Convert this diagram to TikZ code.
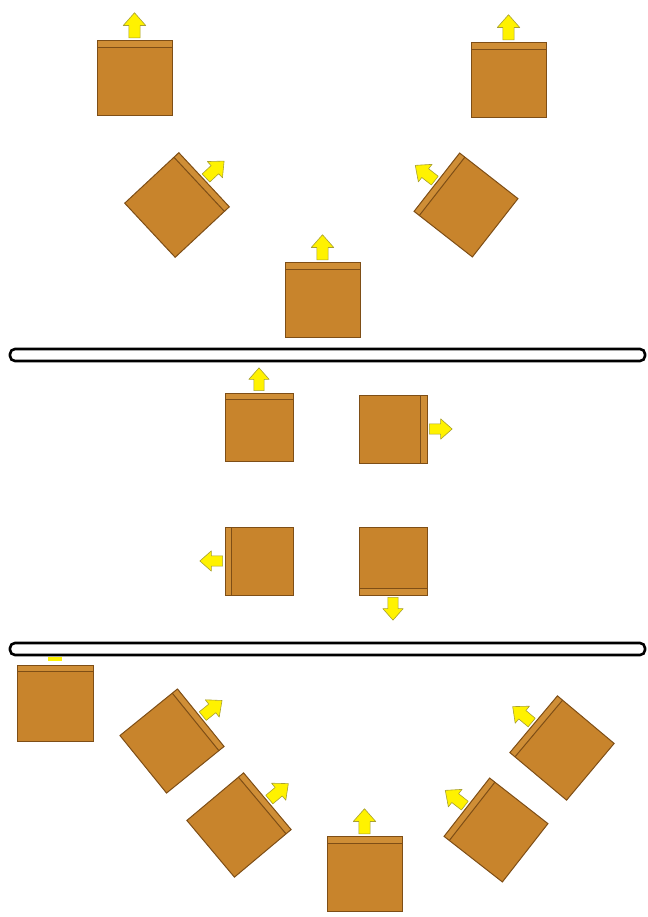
\documentclass[tikz,border=0pt]{standalone}
\definecolor{cratefill}{HTML}{C8842C}
\definecolor{crateedge}{HTML}{7E4E16}
\definecolor{crateband}{HTML}{CF8E36}
\definecolor{arrowfill}{HTML}{FFF200}
\definecolor{arrowedge}{HTML}{A8A030}
\newcommand{\myCrateBody}{%
    \fill[cratefill] (-0.5,-0.5) rectangle (0.5,0.5);
    \fill[crateband] (-0.5,0.41) rectangle (0.5,0.5);
    \draw[crateedge, line width=1pt] (-0.5,0.41) -- (0.5,0.41);
    \draw[crateedge, line width=1pt] (-0.5,-0.5) rectangle (0.5,0.5);
}
\newcommand{\myPushArrow}{%
    \draw[arrowedge, fill=arrowfill, line width=0.6pt, line join=round]
      (-0.075,0.535) -- (0.075,0.535) -- (0.075,0.7) -- (0.15,0.7) -- (0,0.87)
      -- (-0.15,0.7) -- (-0.075,0.7) -- cycle;
}
\tikzset{
  cratebody/.pic={\myCrateBody},
  crate/.pic={\myCrateBody\myPushArrow},
  barrier/.style={draw=black, fill=white, line width=2.6pt, rounded corners=5pt}
}
\begin{document}
\begin{tikzpicture}[x=1pt,y=1pt]
\useasboundingbox (0,0) rectangle (647,-917);
% top section
\pic (c1) [scale=75] at (134.5,-78) {crate};
\pic (c2) [scale=75] at (508.5,-80) {crate};
\pic (c3) [scale=74, rotate=-47] at (177,-205) {crate};
\pic (c4) [scale=74, rotate=52] at (466,-205) {crate};
\pic (c5) [scale=75] at (322.5,-300) {crate};
% first barrier
\draw[barrier] (10,-349) rectangle (645,-361);
% middle section
\pic (m1) [scale=68] at (259,-427) {crate};
\pic (m2) [scale=68, rotate=-90] at (393,-429) {crate};
\pic (m3) [scale=68, rotate=90] at (259,-561) {crate};
\pic (m4) [scale=68, rotate=180] at (393,-561) {crate};
% second barrier
\draw[barrier] (10,-643) rectangle (645,-655);
% bottom section
\fill[arrowfill] (48,-656.5) rectangle (62,-660.5);
\pic (b1) [scale=76] at (55,-703) {cratebody};
\pic (b2) [scale=74, rotate=-51] at (172,-741) {crate};
\pic (b3) [scale=74, rotate=-50] at (239,-825) {crate};
\pic (b4) [scale=75] at (364.5,-874) {crate};
\pic (b5) [scale=74, rotate=52] at (496,-830) {crate};
\pic (b6) [scale=74, rotate=50] at (562,-748) {crate};
\end{tikzpicture}
\end{document}
